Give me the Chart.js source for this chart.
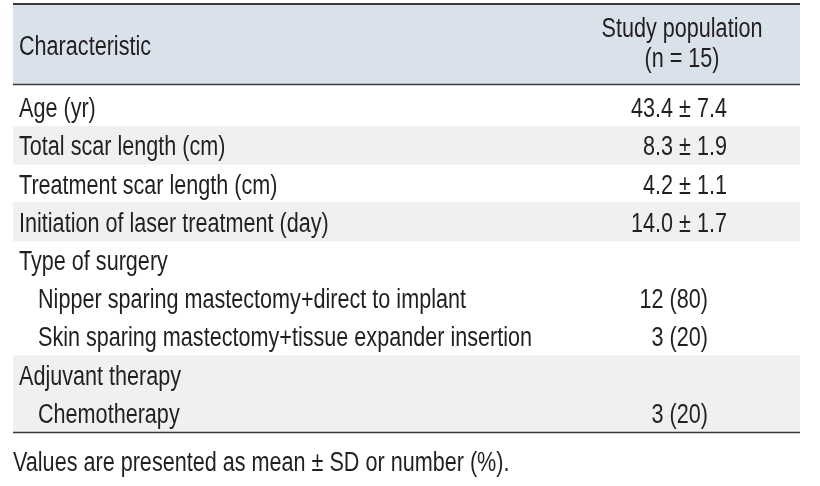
<!DOCTYPE html>
<html>
<head>
<meta charset="utf-8">
<script src="https://cdn.jsdelivr.net/npm/chart.js@4"></script>
<style>
  html, body { margin: 0; padding: 0; background: #fff; }
  #wrap { width: 820px; height: 486px; }
</style>
</head>
<body>
<div id="wrap"><canvas id="tableChart" width="820" height="486"></canvas></div>
<script>
// --- DONNEES ---
const headerLeft = "Characteristic";
const headerRight = ["Study population", "(n = 15)"];
const footNote = "Values are presented as mean ± SD or number (%).";

const rowLabels = [
  "Age (yr)",
  "Total scar length (cm)",
  "Treatment scar length (cm)",
  "Initiation of laser treatment (day)",
  "Type of surgery",
  "Nipper sparing mastectomy+direct to implant",
  "Skin sparing mastectomy+tissue expander insertion",
  "Adjuvant therapy",
  "Chemotherapy"
];
const rowLevel = [0, 0, 0, 0, 0, 1, 1, 0, 1];
const rowGroup = [0, 1, 2, 3, 4, 4, 4, 5, 5];

const meanVals = [43.4, 8.3, 4.2, 14.0, null, null, null, null, null];
const sdVals   = [7.4, 1.9, 1.1, 1.7, null, null, null, null, null];
const counts   = [null, null, null, null, null, 12, 3, null, 3];
const percents = [null, null, null, null, null, 80, 20, null, 20];

const FONT = '27px "Liberation Sans", Arial, sans-serif';
const SCALE_X = 0.8;
const TEXT = "#231f20";

function cellText(i) {
  if (meanVals[i] !== null) return meanVals[i].toFixed(1) + " ± " + sdVals[i].toFixed(1);
  if (counts[i] !== null) return counts[i] + " (" + percents[i] + ")";
  return "";
}

// texte condense : on ecrase horizontalement
function texte(ctx, txt, x, y, align) {
  ctx.save();
  ctx.translate(x, y);
  ctx.scale(SCALE_X, 1);
  ctx.textAlign = align;
  ctx.fillText(txt, 0, 0);
  ctx.restore();
}

const shadeData = rowGroup.map(g => (g % 2 === 1 ? [0, 1] : null));

const tablePlugin = {
  id: "tableText",
  beforeDraw(chart) {
    const ctx = chart.ctx;
    const area = chart.chartArea;
    ctx.save();
    ctx.fillStyle = "#d9e1ea";
    ctx.fillRect(area.left, 5, area.right - area.left, 79);
    ctx.restore();
  },
  afterDraw(chart) {
    const ctx = chart.ctx;
    const area = chart.chartArea;
    const y = chart.scales.y;
    ctx.save();
    ctx.font = FONT;
    ctx.fillStyle = TEXT;
    ctx.textBaseline = "alphabetic";

    // en-tete
    texte(ctx, headerLeft, area.left + 6, 55, "left");
    texte(ctx, headerRight[0], 682, 37, "center");
    texte(ctx, headerRight[1], 682, 67, "center");

    // lignes
    rowLabels.forEach((lab, i) => {
      const py = y.getPixelForValue(i) + 10;
      texte(ctx, lab, area.left + 6 + rowLevel[i] * 19, py, "left");
      const txt = cellText(i);
      if (txt) texte(ctx, txt, meanVals[i] !== null ? 727 : 708, py, "right");
    });

    // filets
    ctx.strokeStyle = "#3a3a3a";
    ctx.lineWidth = 2;
    ctx.beginPath();
    ctx.moveTo(area.left, 4); ctx.lineTo(area.right, 4);
    ctx.stroke();
    ctx.lineWidth = 1.5;
    ctx.beginPath();
    ctx.moveTo(area.left, 84.5); ctx.lineTo(area.right, 84.5);
    ctx.moveTo(area.left, area.bottom + 0.5); ctx.lineTo(area.right, area.bottom + 0.5);
    ctx.stroke();

    // note
    texte(ctx, footNote, area.left, 471, "left");
    ctx.restore();
  }
};

new Chart(document.getElementById("tableChart"), {
  type: "bar",
  data: {
    labels: rowLabels,
    datasets: [{
      data: shadeData,
      backgroundColor: "#f0f0f0",
      borderWidth: 0,
      borderSkipped: false,
      barPercentage: 1,
      categoryPercentage: 1
    }]
  },
  options: {
    indexAxis: "y",
    responsive: false,
    animation: false,
    layout: { padding: { left: 13, right: 20, top: 88, bottom: 54 } },
    plugins: { legend: { display: false }, tooltip: { enabled: false } },
    scales: {
      x: { display: false, min: 0, max: 1 },
      y: { display: false }
    }
  },
  plugins: [tablePlugin]
});
</script>
</body>
</html>
